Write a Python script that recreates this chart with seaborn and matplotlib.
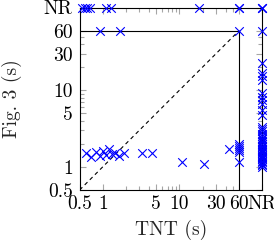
import matplotlib
matplotlib.use("Agg")
import matplotlib.pyplot as plt
import numpy as np
import pandas as pd
import seaborn as sns

NR = 120  # position used for "no result"

# data (seconds); NR = not resolved
tnt_vals = [0.54, 0.58, 0.62, 0.68, 1.1, 1.3, 18, 60, 60, NR, NR, NR,
            0.92, 1.7, 60, NR,
            NR, NR, NR, NR, NR, NR, NR, NR, NR, NR, NR, NR, NR, NR, NR, NR, NR, NR, NR,
            NR, NR, NR, NR, NR, NR, NR, NR, NR, NR, NR, NR, NR, NR, NR, NR, NR, NR,
            60, 60, 60, 60, 60, 60, 44,
            0.61, 0.70, 0.82, 0.92, 1.01, 1.10, 1.21, 1.32, 1.45, 1.63, 1.90,
            3.25, 4.4, 10.8, 21]
fig3_vals = [NR, NR, NR, NR, NR, NR, NR, NR, NR, NR, NR, NR,
             60, 60, 60, 60,
             23, 17, 15.3, 13.6, 9.2, 8.2, 7.5, 6.6, 5.5, 4.75, 3.3, 3.1, 2.9, 2.7, 2.5, 2.4, 2.3, 2.2, 2.1,
             2.0, 1.9, 1.8, 1.7, 1.65, 1.6, 1.55, 1.5, 1.45, 1.4, 1.35, 1.3, 1.25, 1.2, 1.15, 1.1, 1.05, 1.0,
             2.0, 1.85, 1.75, 1.65, 1.55, 1.15, 1.71,
             1.52, 1.35, 1.57, 1.40, 1.62, 1.45, 1.73, 1.48, 1.52, 1.40, 1.52,
             1.52, 1.52, 1.16, 1.09]

tick_vals = [0.5, 1, 5, 10, 30, 60, NR]
tick_labels = ["0.5", "1", "5", "10", "30", "60", "NR"]
minor_vals = [2, 3, 4, 6, 7, 8, 9, 20, 40, 50]

sns.set_theme(style="white")
plt.rcParams["font.family"] = ["cmr10", "DejaVu Serif"]
plt.rcParams["axes.unicode_minus"] = False
plt.rcParams["mathtext.fontset"] = "cm"

df = pd.DataFrame({"TNT": tnt_vals, "Fig3": fig3_vals})

fig = plt.figure(figsize=(2.74, 2.40), dpi=100)
ax = fig.add_axes([79.6 / 274, 50 / 240, 182.6 / 274, 182.5 / 240])

ax.set_xscale("log")
ax.set_yscale("log")

# reference lines
ax.plot([0.5, 60], [0.5, 60], color="black", linestyle=(0, (3.5, 3)), linewidth=0.8, zorder=1)
ax.plot([0.5, 60], [60, 60], color="black", linewidth=0.8, zorder=1)
ax.plot([60, 60], [0.5, 60], color="black", linewidth=0.8, zorder=1)

sns.scatterplot(data=df, x="TNT", y="Fig3", marker="x", color="#0000ff",
                s=38, linewidth=0.8, ax=ax, zorder=3, clip_on=False, legend=False)

ax.set_xlim(0.5, NR)
ax.set_ylim(0.5, NR)

for axis in (ax.xaxis, ax.yaxis):
    axis.set_major_locator(matplotlib.ticker.FixedLocator(tick_vals))
    axis.set_major_formatter(matplotlib.ticker.FixedFormatter(tick_labels))
    axis.set_minor_locator(matplotlib.ticker.FixedLocator(minor_vals))
    axis.set_minor_formatter(matplotlib.ticker.NullFormatter())

ax.tick_params(which="both", direction="in", top=True, right=True, bottom=True, left=True,
               color="0.65", width=0.8, labelsize=14, labelcolor="black")
ax.tick_params(which="major", length=4)
ax.tick_params(which="minor", length=3)
ax.tick_params(axis="x", which="major", pad=4)
ax.tick_params(axis="y", which="major", pad=5)

for sp in ax.spines.values():
    sp.set_color("black")
    sp.set_linewidth(0.8)
    sp.set_visible(True)

ax.set_xlabel("TNT (s)", fontsize=14)
ax.set_ylabel("Fig. 3 (s)", fontsize=14)
ax.xaxis.set_label_coords(0.5, -0.165)
ax.yaxis.set_label_coords(-0.315, 0.5)
ax.grid(False)

fig.savefig("out.png", dpi=100)
